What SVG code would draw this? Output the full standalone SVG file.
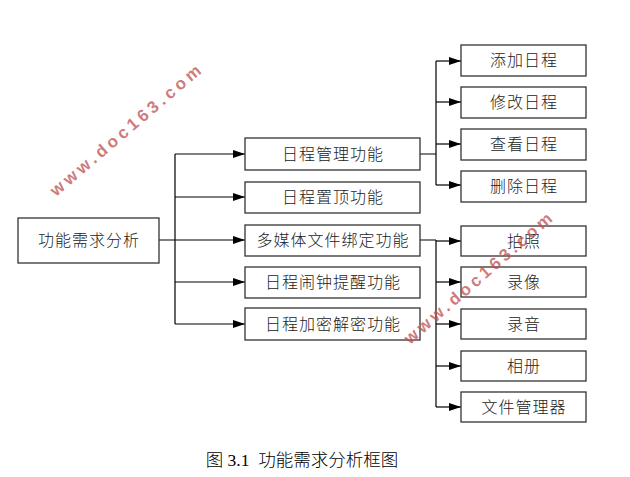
<svg xmlns="http://www.w3.org/2000/svg" width="630" height="477" viewBox="0 0 630 477">
<style>
.box{fill:#fff;stroke:#333;stroke-width:1.3}
.t{font-family:"Noto Sans CJK SC","Noto Sans",sans-serif;font-size:16px;font-weight:300;fill:#222;text-anchor:middle;letter-spacing:1px}
.ln{fill:none;stroke:#000;stroke-width:1.2}
.wm{font-family:"Liberation Sans",Arial,sans-serif;font-size:17px;fill:#c05050;fill-opacity:0.75;font-weight:bold}
.cap{font-family:"Liberation Serif","Noto Sans CJK SC",serif;font-size:17.5px;font-weight:300;fill:#000;text-anchor:middle}
</style>
<defs>
<marker id="ah" viewBox="0 0 12 8" refX="12" refY="4" markerWidth="12" markerHeight="8" markerUnits="userSpaceOnUse" orient="auto">
<path d="M0,0 L12,4 L0,8 Z" fill="#000"/>
</marker>
</defs>
<rect width="630" height="477" fill="#fff"/>
<g id="connectors">
<path class="ln" d="M159,240 H175 M175,154 V324"/>
<path class="ln" marker-end="url(#ah)" d="M175,154 H245"/>
<path class="ln" marker-end="url(#ah)" d="M175,197 H245"/>
<path class="ln" marker-end="url(#ah)" d="M175,240 H245"/>
<path class="ln" marker-end="url(#ah)" d="M175,282 H245"/>
<path class="ln" marker-end="url(#ah)" d="M175,324 H245"/>
<path class="ln" d="M420,154 H436 M436,61 V185"/>
<path class="ln" marker-end="url(#ah)" d="M436,61 H461"/>
<path class="ln" marker-end="url(#ah)" d="M436,102 H461"/>
<path class="ln" marker-end="url(#ah)" d="M436,144 H461"/>
<path class="ln" marker-end="url(#ah)" d="M436,185 H461"/>
<path class="ln" d="M420,240 H436 M436,240 V407"/>
<path class="ln" marker-end="url(#ah)" d="M436,241 H461"/>
<path class="ln" marker-end="url(#ah)" d="M436,282 H461"/>
<path class="ln" marker-end="url(#ah)" d="M436,324 H461"/>
<path class="ln" marker-end="url(#ah)" d="M436,366 H461"/>
<path class="ln" marker-end="url(#ah)" d="M436,407 H461"/>
</g>
<g id="root"><rect class="box" x="18" y="218" width="141" height="45"/><text class="t" x="89" y="246">功能需求分析</text></g>
<g id="m1"><rect class="box" x="245" y="138" width="175" height="32"/><text class="t" x="333" y="160">日程管理功能</text></g>
<g id="m2"><rect class="box" x="245" y="182" width="175" height="31"/><text class="t" x="333" y="203">日程置顶功能</text></g>
<g id="m3"><rect class="box" x="245" y="225" width="175" height="31"/><text class="t" x="333" y="246">多媒体文件绑定功能</text></g>
<g id="m4"><rect class="box" x="245" y="267" width="175" height="31"/><text class="t" x="333" y="288">日程闹钟提醒功能</text></g>
<g id="m5"><rect class="box" x="245" y="308" width="175" height="32"/><text class="t" x="333" y="330">日程加密解密功能</text></g>
<g id="r1"><rect class="box" x="461" y="45" width="125" height="31"/><text class="t" x="524" y="66">添加日程</text></g>
<g id="r2"><rect class="box" x="461" y="87" width="125" height="31"/><text class="t" x="524" y="108">修改日程</text></g>
<g id="r3"><rect class="box" x="461" y="129" width="125" height="31"/><text class="t" x="524" y="150">查看日程</text></g>
<g id="r4"><rect class="box" x="461" y="171" width="125" height="31"/><text class="t" x="524" y="192">删除日程</text></g>
<g id="s1"><rect class="box" x="461" y="226" width="125" height="30"/><text class="t" x="524" y="247">拍照</text></g>
<g id="s2"><rect class="box" x="461" y="267" width="125" height="30"/><text class="t" x="524" y="288">录像</text></g>
<g id="s3"><rect class="box" x="461" y="309" width="125" height="30"/><text class="t" x="524" y="330">录音</text></g>
<g id="s4"><rect class="box" x="461" y="351" width="125" height="30"/><text class="t" x="524" y="372">相册</text></g>
<g id="s5"><rect class="box" x="461" y="392" width="125" height="30"/><text class="t" x="524" y="413">文件管理器</text></g>
<text class="wm" transform="translate(56,197) rotate(-40.4)" textLength="192" lengthAdjust="spacing">www.doc163.com</text>
<text class="wm" transform="translate(410,345) rotate(-41)" textLength="190" lengthAdjust="spacing">www.doc163.com</text>
<text class="cap" x="302" y="466" xml:space="preserve">图 3.1  功能需求分析框图</text>
</svg>
